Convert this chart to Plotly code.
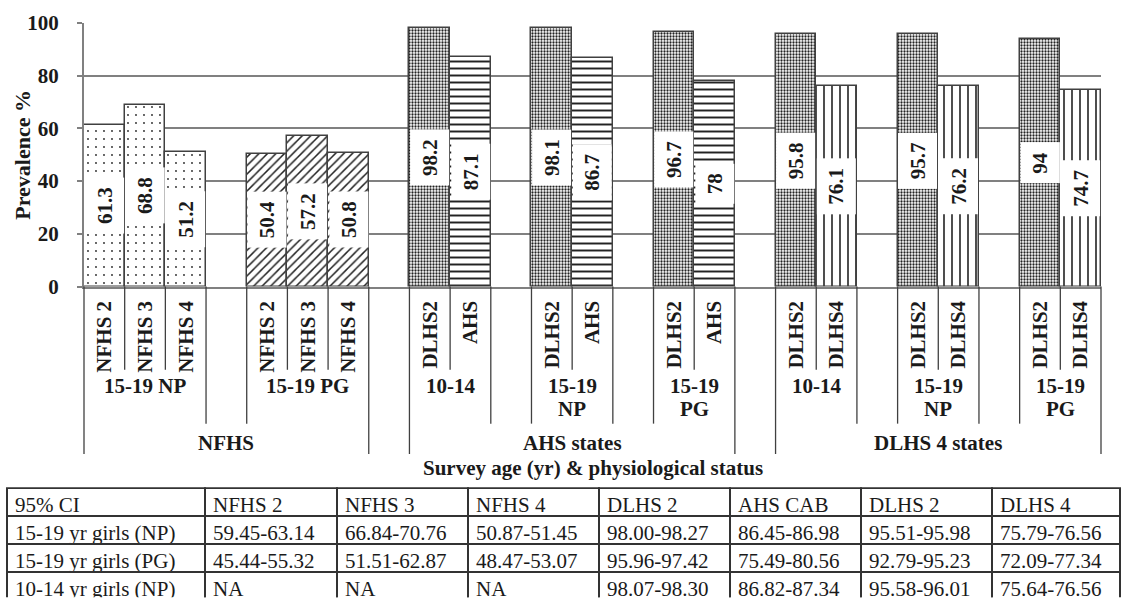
import plotly.graph_objects as go

# ---------------- data ----------------
survey_names = ["NFHS", "AHS states", "DLHS 4 states"]
nfhs_groups = ["15-19 NP", "15-19 PG"]
ahs_groups = ["10-14", "15-19<br>NP", "15-19<br>PG"]
dlhs_groups = ["10-14", "15-19<br>NP", "15-19<br>PG"]
nfhs_sources = ["NFHS 2", "NFHS 3", "NFHS 4"]
ahs_sources = ["DLHS2", "AHS"]
dlhs_sources = ["DLHS2", "DLHS4"]

nfhs_np = [61.3, 68.8, 51.2]
nfhs_pg = [50.4, 57.2, 50.8]
ahs_1014 = [98.2, 87.1]
ahs_np = [98.1, 86.7]
ahs_pg = [96.7, 78]
dlhs_1014 = [95.8, 76.1]
dlhs_np = [95.7, 76.2]
dlhs_pg = [94, 74.7]

y_ticks = [0, 20, 40, 60, 80, 100]

ci_header = ["95% CI", "NFHS 2", "NFHS 3", "NFHS 4", "DLHS 2", "AHS CAB", "DLHS 2", "DLHS 4"]
ci_rows = ["15-19 yr girls (NP)", "15-19 yr girls (PG)", "10-14 yr girls (NP)"]
ci_nfhs2 = ["59.45-63.14", "45.44-55.32", "NA"]
ci_nfhs3 = ["66.84-70.76", "51.51-62.87", "NA"]
ci_nfhs4 = ["50.87-51.45", "48.47-53.07", "NA"]
ci_dlhs2_ahs = ["98.00-98.27", "95.96-97.42", "98.07-98.30"]
ci_ahs_cab = ["86.45-86.98", "75.49-80.56", "86.82-87.34"]
ci_dlhs2_dlhs = ["95.51-95.98", "92.79-95.23", "95.58-96.01"]
ci_dlhs4 = ["75.79-76.56", "72.09-77.34", "75.64-76.56"]

# ---------------- styles ----------------
FONT = "Liberation Serif, Tinos, 'Times New Roman', 'DejaVu Serif', serif"
TXT = "#1a1a1a"
GRID = "#808080"
OUTLINE = "#404040"

patterns = {
    "np": dict(shape=".", size=8, solidity=0.04),
    "pg": dict(shape="/", size=6, solidity=0.25),
    "DLHS2": dict(shape=".", size=3, solidity=0.45),
    "AHS": dict(shape="-", size=7, solidity=0.28),
    "DLHS4": dict(shape="|", size=8, solidity=0.2),
}

spec = [
    (survey_names[0], [
        (nfhs_groups[0], nfhs_sources, nfhs_np, ["np"] * 3),
        (nfhs_groups[1], nfhs_sources, nfhs_pg, ["pg"] * 3),
    ]),
    (survey_names[1], [
        (g, ahs_sources, v, ahs_sources) for g, v in zip(ahs_groups, [ahs_1014, ahs_np, ahs_pg])
    ]),
    (survey_names[2], [
        (g, dlhs_sources, v, dlhs_sources) for g, v in zip(dlhs_groups, [dlhs_1014, dlhs_np, dlhs_pg])
    ]),
]

# ---------------- page geometry ----------------
W, H = 1122, 610
ML, MR, MT, MB = 7, 2, 23, 0
PW, PH = W - ML - MR, H - MT - MB
XD = [(84 - ML) / PW, (1101 - ML) / PW]
YD = [(H - 292) / PH, 1.0]


def ypx(py):
    return (H - py) / PH


# ---------------- build ----------------
traces = {k: dict(x=[], y=[]) for k in patterns}
tickvals, ticktext = [], []
groups_info, surveys_info = [], []
pos = 0
for si, (sname, groups) in enumerate(spec):
    s_start = pos
    for gi, (gname, srcs, vals, keys) in enumerate(groups):
        g_start = pos
        for s, v, k in zip(srcs, vals, keys):
            traces[k]["x"].append(pos)
            traces[k]["y"].append(v)
            tickvals.append(pos)
            ticktext.append(s)
            pos += 1
        groups_info.append((gname, g_start, pos - 1))
        if not (si == len(spec) - 1 and gi == len(groups) - 1):
            pos += 1
    s_end = pos - 2 if si < len(spec) - 1 else pos - 1
    surveys_info.append((sname, s_start, s_end))
n_slots = pos
XR = [-0.5, n_slots - 0.5]


def xpaper(v):
    return XD[0] + (v - XR[0]) / (XR[1] - XR[0]) * (XD[1] - XD[0])


fig = go.Figure()
for k, d in traces.items():
    fig.add_trace(go.Bar(
        x=d["x"], y=d["y"], width=1,
        marker=dict(color="white", line=dict(color=OUTLINE, width=1.5),
                    pattern=dict(fgcolor="#222222", bgcolor="white", fillmode="replace", **patterns[k])),
        showlegend=False, hoverinfo="skip",
    ))

bold = dict(family=FONT, size=21, color=TXT, weight="bold")
annotations = []
# value labels
for k, d in traces.items():
    for x, y in zip(d["x"], d["y"]):
        annotations.append(dict(
            x=x, y=y / 2, xref="x", yref="y", text=f"{y:g}", textangle=-90,
            showarrow=False, bgcolor="white", borderpad=9, height=20, font=bold,
        ))

shapes = []
line_style = dict(color=OUTLINE, width=1.3)
survey_edges = set()
for _, a, b in surveys_info:
    survey_edges.add(a - 0.5)
    survey_edges.add(b + 0.5)
for gname, a, b in groups_info:
    for edge in (a - 0.5, b + 0.5):
        bottom = 463 if edge in survey_edges else 432
        shapes.append(dict(type="line", xref="paper", yref="paper",
                           x0=xpaper(edge), x1=xpaper(edge), y0=YD[0], y1=ypx(bottom), line=line_style))
    for inner in range(a, b):
        shapes.append(dict(type="line", xref="paper", yref="paper",
                           x0=xpaper(inner + 0.5), x1=xpaper(inner + 0.5), y0=YD[0], y1=ypx(377), line=line_style))
    for li, part in enumerate(gname.split("<br>")):
        annotations.append(dict(
            x=(a + b) / 2, y=ypx(394 + 23 * li), xref="x", yref="paper", yanchor="middle",
            xanchor="center", text=part, showarrow=False, font=bold,
        ))

for sname, a, b in surveys_info:
    annotations.append(dict(
        x=(a + b) / 2, y=ypx(452), xref="x", yref="paper", yanchor="middle", xanchor="center",
        text=sname, showarrow=False, font=bold,
    ))

annotations.append(dict(
    x=(XD[0] + XD[1]) / 2, y=ypx(477), xref="paper", yref="paper", yanchor="middle", xanchor="center",
    text="Survey age (yr) & physiological status", showarrow=False, font=bold,
))
annotations.append(dict(
    x=(23 - ML) / PW, y=(YD[0] + YD[1]) / 2, xref="paper", yref="paper", textangle=-90,
    xanchor="center", yanchor="middle",
    text="Prevalence %", showarrow=False,
    font=dict(family=FONT, size=22, color=TXT, weight="bold"),
))

cell_font = dict(family=FONT, size=21, color=TXT)
cell_line = dict(color="#333333", width=2)
fig.add_trace(go.Table(
    domain=dict(x=[0, 1], y=[0, ypx(498)]),
    columnwidth=[198, 132, 131, 131, 131, 131, 131, 128],
    header=dict(values=ci_header, fill_color="white", line=cell_line, align="left",
                font=cell_font, height=28),
    cells=dict(values=[ci_rows, ci_nfhs2, ci_nfhs3, ci_nfhs4, ci_dlhs2_ahs, ci_ahs_cab, ci_dlhs2_dlhs, ci_dlhs4],
               fill_color="white", line=cell_line, align="left", font=cell_font, height=28),
))

fig.update_layout(
    width=W, height=H, margin=dict(l=ML, r=MR, t=MT, b=MB),
    paper_bgcolor="white", plot_bgcolor="white",
    font=dict(family=FONT, color=TXT),
    barmode="overlay", bargap=0,
    showlegend=False,
    xaxis=dict(domain=XD, range=XR, tickvals=tickvals, ticktext=ticktext, tickangle=-90,
               showgrid=False, zeroline=False, showline=True, linecolor=GRID, linewidth=2,
               ticks="", ticklabelstandoff=4,
               tickfont=bold),
    yaxis=dict(domain=YD, range=[0, 100], tickvals=y_ticks, showgrid=True, gridcolor=GRID, gridwidth=1.5,
               zeroline=False, showline=True, linecolor=GRID, linewidth=2, ticks="outside", ticklen=5,
               tickcolor=GRID, tickwidth=1.5, ticklabelstandoff=14,
               tickfont=bold),
    annotations=annotations,
    shapes=shapes,
)

fig.write_html("out.html", config={"displayModeBar": False},
               post_script="document.body.style.margin='0';document.body.style.overflow='hidden';")
